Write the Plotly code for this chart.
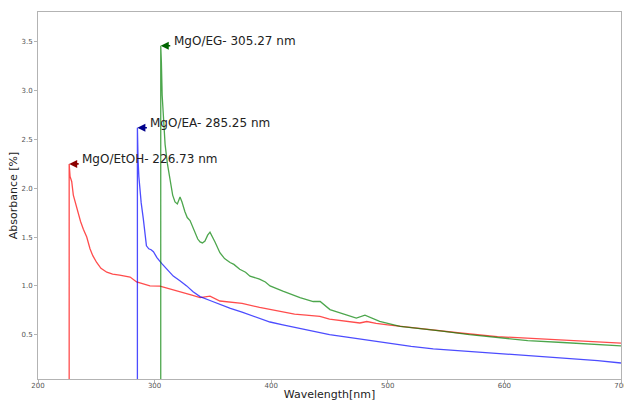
import plotly.graph_objects as go

# ---- data ----
etoh_wl = [226.73, 226.73, 227.5, 228.9, 230.3, 232, 234.6, 236.5, 238.9, 241.8, 244.6, 247, 250.3, 254,
           259, 264, 270, 279, 284.6, 290, 296, 304.6, 310, 318, 324.6, 332, 339, 347.5, 356, 365, 375,
           390, 407.5, 420, 430, 441.8, 450, 460, 470, 476, 482, 490, 500, 521, 536, 560, 594, 620, 650,
           680, 700]
etoh_abs = [0, 2.25, 2.12, 2.07, 1.93, 1.85, 1.72, 1.66, 1.58, 1.50, 1.38, 1.31, 1.24, 1.18,
            1.14, 1.12, 1.11, 1.09, 1.04, 1.02, 1.0, 0.997, 0.98, 0.955, 0.93, 0.905, 0.88, 0.895, 0.845,
            0.83, 0.82, 0.78, 0.735, 0.71, 0.70, 0.688, 0.66, 0.645, 0.63, 0.62, 0.635, 0.615, 0.60, 0.57,
            0.55, 0.52, 0.48, 0.465, 0.445, 0.43, 0.414]

ea_wl = [285.25, 285.25, 285.8, 286.5, 287.5, 288.5, 290.3, 291.5, 293, 295, 297, 299, 302, 306, 310,
         316, 322, 327.5, 333, 339, 347.5, 356, 365, 375, 385, 399, 410, 420, 430, 439, 450, 465, 479,
         490, 499, 520, 539, 570, 596, 625, 653, 680, 700]
ea_abs = [0, 2.62, 2.3, 2.12, 1.95, 1.85, 1.69, 1.55, 1.41, 1.38, 1.37, 1.35, 1.29, 1.23, 1.18,
          1.10, 1.05, 1.0, 0.94, 0.89, 0.85, 0.81, 0.77, 0.73, 0.69, 0.63, 0.60, 0.575, 0.545, 0.52,
          0.50, 0.475, 0.45, 0.43, 0.41, 0.38, 0.355, 0.33, 0.31, 0.285, 0.26, 0.235, 0.21]

eg_wl = [305.27, 305.27, 305.8, 306.5, 307.4, 309, 311, 313.2, 315.5, 317.5, 319.5, 321.8, 323.5, 326,
         328, 330.4, 334.6, 337, 339, 341, 343.2, 345.5, 347.5, 349.5, 351.8, 356, 360, 364.7, 368, 373,
         378, 381.8, 390, 395, 399, 410, 424.7, 436, 442, 450.4, 457, 464.7, 473, 480.4, 486, 493,
         510.5, 530, 545, 570, 593, 620, 650, 680, 700]
eg_abs = [0, 3.46, 3.3, 2.95, 2.72, 2.45, 2.25, 2.07, 1.93, 1.86, 1.84, 1.91, 1.86, 1.76,
          1.70, 1.67, 1.55, 1.48, 1.45, 1.44, 1.46, 1.52, 1.55, 1.51, 1.45, 1.34, 1.28, 1.24, 1.22, 1.17,
          1.14, 1.10, 1.07, 1.04, 1.0, 0.946, 0.88, 0.84, 0.84, 0.757, 0.73, 0.70, 0.67, 0.70, 0.67, 0.637,
          0.585, 0.56, 0.54, 0.50, 0.47, 0.44, 0.42, 0.40, 0.386]

peak_labels = ["MgO/EtOH- 226.73 nm", "MgO/EA- 285.25 nm", "MgO/EG- 305.27 nm"]
x_ticks = [200, 300, 400, 500, 600, 700]
y_ticks = [0.5, 1.0, 1.5, 2.0, 2.5, 3.0, 3.5]

series = [
    (etoh_wl, etoh_abs, "rgba(255,0,0,0.7)", "darkred", peak_labels[0]),
    (ea_wl, ea_abs, "rgba(0,0,255,0.7)", "darkblue", peak_labels[1]),
    (eg_wl, eg_abs, "rgba(0,128,0,0.7)", "darkgreen", peak_labels[2]),
]

fig = go.Figure()
annotations = []
for wl, ab, col, acol, lab in series:
    fig.add_trace(go.Scatter(x=wl, y=ab, mode="lines", line=dict(color=col, width=1.3),
                             showlegend=False, hoverinfo="skip"))
    pk = max(range(len(ab)), key=lambda i: ab[i])
    px_, py_ = wl[pk], ab[pk]
    annotations.append(dict(x=px_, y=py_, xref="x", yref="y", text="", showarrow=True,
                            ax=11, ay=0, arrowhead=2, arrowsize=1.0, arrowwidth=1.6,
                            arrowcolor=acol, standoff=0))
    annotations.append(dict(x=px_, y=py_, xref="x", yref="y", text=lab, showarrow=False,
                            xanchor="left", yanchor="middle", xshift=11, yshift=5,
                            font=dict(family="DejaVu Sans", size=12, color="#222")))

axis_common = dict(showline=True, linecolor="#b3b3b3", linewidth=1, mirror=True,
                   ticks="outside", ticklen=3, tickcolor="#b3b3b3", tickwidth=1,
                   showgrid=False, zeroline=False,
                   tickfont=dict(family="DejaVu Sans", size=7, color="#555"))

fig.update_layout(
    width=624, height=401,
    margin=dict(l=38, r=3, t=12, b=22),
    paper_bgcolor="white", plot_bgcolor="white",
    font=dict(family="DejaVu Sans", color="#222"),
    annotations=annotations,
)
fig.update_xaxes(range=[200, 700], tickvals=x_ticks, ticklabeloverflow="allow",
                 ticklabelstandoff=-3,
                 title=dict(text="Wavelength[nm]", font=dict(size=11, color="#222"), standoff=10),
                 automargin=False, **axis_common)
fig.update_yaxes(range=[0.046, 3.806], tickvals=y_ticks, tickformat=".1f",
                 title=dict(text="Absorbance [%]", font=dict(size=11, color="#222"), standoff=1),
                 automargin=False, **axis_common)

fig.write_html("out.html", config={"displayModeBar": False},
               post_script="document.body.style.margin='0';document.body.style.overflow='hidden';")
